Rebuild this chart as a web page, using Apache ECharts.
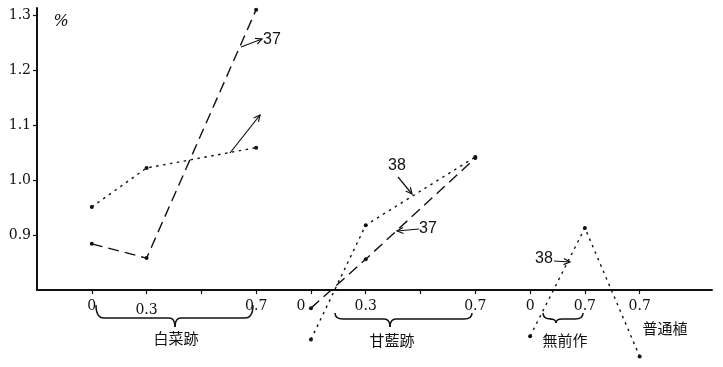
<!DOCTYPE html>
<html><head><meta charset="utf-8">
<script src="https://cdn.jsdelivr.net/npm/echarts@6/dist/echarts.min.js"></script>
<style>html,body{margin:0;padding:0;background:#fff}#c{width:723px;height:367px}</style>
</head><body><div id="c"></div>
<script>
// ---- data ----
var xTickPositions = [1,2,3,4,5,6,7,8,9,10,11];
var xLabelPositions = [1,2,4,5,6,8,9,10,11];
var xLabelTexts = ['0','0.3','0.7','0','0.3','0.7','0','0.7','0.7'];
var yTickValues = [0.9,1.0,1.1,1.2,1.3];
var groupNames = ['白菜跡','甘藍跡','無前作','普通植'];
// x positions of each group (0, 0.3, 0.7)
var hakusaiX = [1,2,4];
var kanranX = [5,6,8];
var muzensakuX = [9,10,11]; // 無前作 0, 0.7, 普通植 0.7
// series values (%)
var s37Hakusai = [0.884, 0.858, 1.310];
var s38Hakusai = [0.951, 1.022, 1.059];
var s37Kanran = [0.767, 0.856, 1.040];
var s38Kanran = [0.710, 0.918, 1.042];
var s38Muzensaku = [0.716, 0.913, 0.679];

function pairs(xs, ys){ return xs.map(function(x,i){ return [x, ys[i]]; }); }

var chart = echarts.init(document.getElementById('c'), null, {renderer:'canvas'});
var dashed = [11,6], dotted = [2.5,4.5];
function ser(name, xs, ys, dash){
  return {type:'line', name:name, data:pairs(xs, ys), clip:false, symbol:'circle', symbolSize:4,
    itemStyle:{color:'#111'}, lineStyle:{color:'#111', width:1.4, type:dash}, animation:false, silent:true};
}
var serif = 'DejaVu Serif';
var stroke = {stroke:'#111', lineWidth:1.2, fill:null};
function arrow(x1,y1,x2,y2){
  var a = Math.atan2(y2-y1, x2-x1), L = 7, w = 0.45;
  return [
    {type:'line', shape:{x1:x1,y1:y1,x2:x2,y2:y2}, style:stroke},
    {type:'polyline', shape:{points:[[x2-L*Math.cos(a-w), y2-L*Math.sin(a-w)],[x2,y2],[x2-L*Math.cos(a+w), y2-L*Math.sin(a+w)]]}, style:stroke}
  ];
}
function brace(xL, xR, xM, yEnd, yH, yTip){
  var st = {stroke:'#111', lineWidth:1.5, fill:null};
  function q(x1,y1,cx,cy,x2,y2){ return {type:'bezierCurve', shape:{x1:x1,y1:y1,cpx1:cx,cpy1:cy,x2:x2,y2:y2}, style:st}; }
  function l(x1,y1,x2,y2){ return {type:'line', shape:{x1:x1,y1:y1,x2:x2,y2:y2}, style:st}; }
  return [
    q(xL,yEnd, xL,yH, xL+8,yH), l(xL+8,yH, xM-6,yH), q(xM-6,yH, xM,yH, xM,yTip),
    q(xM,yTip, xM,yH, xM+6,yH), l(xM+6,yH, xR-8,yH), q(xR-8,yH, xR,yH, xR,yEnd)
  ];
}
function txt(x,y,s,font,size){
  return {type:'text', x:x, y:y, style:{text:s, fill:'#111', font: size+'px '+font, align:'center', verticalAlign:'middle'}};
}
var g = [];
g.push({type:'text', x:61, y:22, style:{text:'%', fill:'#111', font:'italic 16px '+serif, align:'center', verticalAlign:'middle'}});
g = g.concat(arrow(241,47,262,39)); g.push(txt(272,40,'37','Liberation Sans',16));
g = g.concat(arrow(230,153,260,115));
g.push(txt(397,166,'38','Liberation Sans',16)); g = g.concat(arrow(398,177,412,194));
g.push(txt(428,229,'37','Liberation Sans',16)); g = g.concat(arrow(419,229,397,231));
g.push(txt(544,259,'38','Liberation Sans',16)); g = g.concat(arrow(554,261,570,262));
g = g.concat(brace(96,253,175,305,318,327));
g = g.concat(brace(335,472,390,313,319,327));
g = g.concat(brace(543,583,556,313,319,323));
var cjk = 'Noto Sans CJK JP';
g.push(txt(176,338,groupNames[0],cjk,15));
g.push(txt(392,340,groupNames[1],cjk,15));
g.push(txt(565,340,groupNames[2],cjk,15));
g.push(txt(665,328,groupNames[3],cjk,15));

chart.setOption({
  animation:false,
  grid:{left:37, right:11, top:8, bottom:77, containLabel:false},
  xAxis:{type:'value', min:0, max:12.32, interval:1,
    axisLine:{show:true, lineStyle:{color:'#111', width:2}},
    axisTick:{show:true, length:4, lineStyle:{color:'#111', width:1.2}, customValues:xTickPositions},
    splitLine:{show:false},
    axisLabel:{show:true, margin:9, color:'#111', fontFamily:serif, fontSize:14, customValues:xLabelPositions,
      formatter:function(v){
        var i = xLabelPositions.indexOf(Math.round(v));
        if(i<0) return '';
        var t = xLabelTexts[i];
        if(i===1) return '{d|'+t+'}';
        if(i===3) return '{l|'+t+'}';
        return t;
      },
      rich:{d:{fontFamily:serif, fontSize:14, color:'#111', padding:[4,0,0,0]},
            l:{fontFamily:serif, fontSize:14, color:'#111', padding:[0,20,0,0]}}
    }
  },
  yAxis:{type:'value', min:0.8, max:1.313, interval:0.1,
    axisLine:{show:true, lineStyle:{color:'#111', width:2}},
    axisTick:{show:true, length:4, lineStyle:{color:'#111', width:1.2}, customValues:yTickValues},
    splitLine:{show:false},
    axisLabel:{show:true, margin:6, color:'#111', fontFamily:serif, fontSize:14, customValues:yTickValues,
      formatter:function(v){ return v.toFixed(1); }}
  },
  series:[
    ser('37 白菜跡', hakusaiX, s37Hakusai, dashed),
    ser('38 白菜跡', hakusaiX, s38Hakusai, dotted),
    ser('37 甘藍跡', kanranX, s37Kanran, dashed),
    ser('38 甘藍跡', kanranX, s38Kanran, dotted),
    ser('38 無前作', muzensakuX, s38Muzensaku, dotted)
  ],
  graphic:g
});
</script></body></html>
